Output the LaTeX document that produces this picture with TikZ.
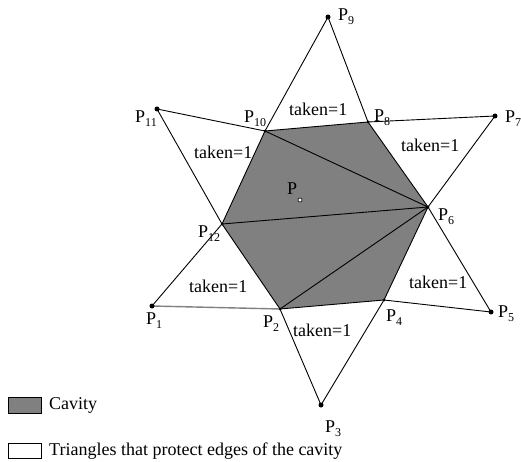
\documentclass[tikz,border=0pt]{standalone}
\usepackage{fontspec}
\setmainfont{Liberation Serif}
\newcommand{\Plab}[1]{P\raisebox{-4pt}{\fontsize{12}{12}\selectfont #1}}
\definecolor{cav}{HTML}{808080}
\begin{document}
\begin{tikzpicture}[x=1pt,y=-1pt,
  edge/.style={black, line width=0.9pt},
  lbl/.style={anchor=base west, inner sep=0pt, font=\fontsize{18}{20}\selectfont},
  outerdot/.style={circle, fill=black, inner sep=0pt, minimum size=5pt},
  innerdot/.style={circle, fill=black, inner sep=0pt, minimum size=3pt},
  legbox/.style={draw=black, line width=0.8pt},
]
\useasboundingbox (0,0) rectangle (521,462);
% points
\coordinate (P1) at (152,306);
\coordinate (P2) at (280,309);
\coordinate (P3) at (321,405);
\coordinate (P4) at (384,300);
\coordinate (P5) at (491,312);
\coordinate (P6) at (428,207);
\coordinate (P7) at (495,116);
\coordinate (P8) at (368,122);
\coordinate (P9) at (328,17);
\coordinate (P10) at (265,131);
\coordinate (P11) at (157,109);
\coordinate (P12) at (222,224);
\coordinate (P) at (300,200);
% cavity
\fill[cav] (P10)--(P8)--(P6)--(P4)--(P2)--(P12)--cycle;
\draw[edge] (P10)--(P8)--(P6)--(P4)--(P2)--(P12)--cycle;
\draw[edge] (P10)--(P6) (P12)--(P6) (P2)--(P6);
% protecting triangles
\draw[edge] (P10)--(P9)--(P8);
\draw[edge] (P8)--(P7)--(P6);
\draw[edge] (P6)--(P5)--(P4);
\draw[edge] (P4)--(P3)--(P2);
\draw[gray, line width=1.4pt] (P2)--(P1);
\draw[edge] (P1)--(P12);
\draw[edge] (P12)--(P11)--(P10);
% dots
\foreach \p in {P1,P3,P5,P7,P9,P11} \node[outerdot] at (\p) {};
\foreach \p in {P2,P4,P6,P8,P10,P12} \node[innerdot] at (\p) {};
\node[circle, draw=black, fill=white, line width=0.6pt, inner sep=0pt, minimum size=4pt] (Pc) at (P) {};
% labels
\node[lbl] (l9) at (338,21) {\Plab{9}};
\node[lbl] (l11) at (135,123) {\Plab{11}};
\node[lbl] (l10) at (244,123) {\Plab{10}};
\node[lbl] (l8) at (374,122) {\Plab{8}};
\node[lbl] (l7) at (505,123) {\Plab{7}};
\node[lbl] (l6) at (438,220) {\Plab{6}};
\node[lbl] (lp) at (287,195) {P};
\node[lbl] (l12) at (198,237) {\Plab{12}};
\node[lbl] (l1) at (146,324) {\Plab{1}};
\node[lbl] (l2) at (263,327) {\Plab{2}};
\node[lbl] (l4) at (386,321) {\Plab{4}};
\node[lbl] (l5) at (498,317) {\Plab{5}};
\node[lbl] (l3) at (325,432) {\Plab{3}};
\node[lbl] (t1) at (289,116) {taken=1};
\node[lbl] (t2) at (194,159) {taken=1};
\node[lbl] (t3) at (401,152) {taken=1};
\node[lbl] (t4) at (189,292) {taken=1};
\node[lbl] (t5) at (293,336) {taken=1};
\node[lbl] (t6) at (409,288) {taken=1};
% legend
\draw[legbox, fill=cav] (8,397) rectangle (41,413);
\node[lbl, anchor=west] (lc) at (49,405) {Cavity};
\draw[legbox, fill=white] (8,443) rectangle (41,458);
\node[lbl, anchor=west] (lt) at (49,451) {Triangles that protect edges of the cavity};
\end{tikzpicture}
\end{document}
